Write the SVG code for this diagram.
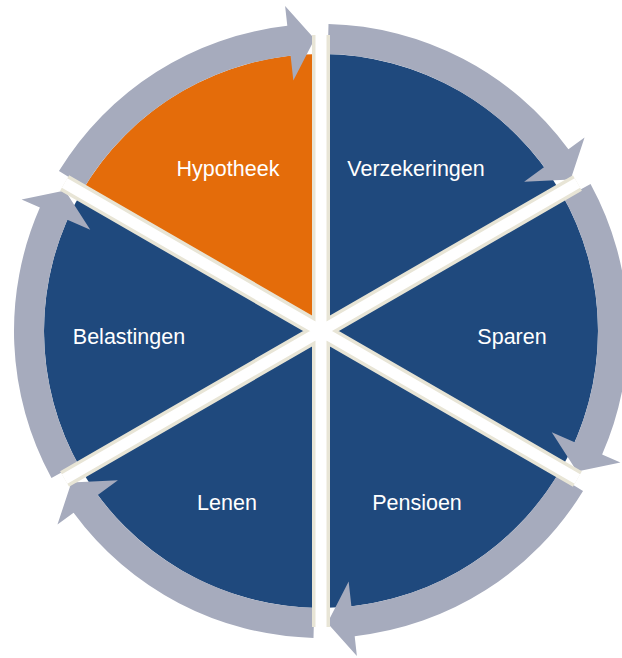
<svg xmlns="http://www.w3.org/2000/svg" xmlns:xlink="http://www.w3.org/1999/xlink" width="622" height="658" viewBox="0 0 622 658">
  <style>
    .blue { fill: #1F497D; }
    .orange { fill: #E46C0A; }
    .arrow { fill: #A6ABBD; }
    .cream { stroke: #E8E5D6; stroke-width: 18; fill: none; }
    .white { stroke: #FFFFFF; stroke-width: 11; fill: none; }
    .label { fill: #FFFFFF; font-family: "Liberation Sans", Arial, sans-serif; font-size: 21.5px; text-anchor: middle; }
  </style>
  <defs>
    <path id="wedge" d="M321,331 L321,54 A277,277 0 0 1 560.89,192.5 Z"/>
    <path id="arc-arrow" d="M328.50,24.09 A307,307 0 0 1 568.42,149.25 L584.54,137.41 L570.63,179.52 L524.09,181.81 L544.24,167.01 A277,277 0 0 0 327.77,54.08 Z"/>
    <path id="divider-lines" d="M321,331 L321,35 M321,331 L577.4,183 M321,331 L577.4,479 M321,331 L321,627 M321,331 L64.6,479 M321,331 L64.6,183"/>
  </defs>
  <rect width="622" height="658" fill="#FFFFFF"/>

  <g id="node-verzekeringen">
    <use xlink:href="#wedge" href="#wedge" class="blue"/>
  </g>
  <g id="node-sparen">
    <use xlink:href="#wedge" href="#wedge" class="blue" transform="rotate(60 321 331)"/>
  </g>
  <g id="node-pensioen">
    <use xlink:href="#wedge" href="#wedge" class="blue" transform="rotate(120 321 331)"/>
  </g>
  <g id="node-lenen">
    <use xlink:href="#wedge" href="#wedge" class="blue" transform="rotate(180 321 331)"/>
  </g>
  <g id="node-belastingen">
    <use xlink:href="#wedge" href="#wedge" class="blue" transform="rotate(240 321 331)"/>
  </g>
  <g id="node-hypotheek">
    <use xlink:href="#wedge" href="#wedge" class="orange" transform="rotate(300 321 331)"/>
  </g>

  <g id="connectors">
    <use xlink:href="#arc-arrow" href="#arc-arrow" class="arrow"/>
    <use xlink:href="#arc-arrow" href="#arc-arrow" class="arrow" transform="rotate(60 321 331)"/>
    <use xlink:href="#arc-arrow" href="#arc-arrow" class="arrow" transform="rotate(120 321 331)"/>
    <use xlink:href="#arc-arrow" href="#arc-arrow" class="arrow" transform="rotate(180 321 331)"/>
    <use xlink:href="#arc-arrow" href="#arc-arrow" class="arrow" transform="rotate(240 321 331)"/>
    <use xlink:href="#arc-arrow" href="#arc-arrow" class="arrow" transform="rotate(300 321 331)"/>
  </g>

  <g id="dividers">
    <use xlink:href="#divider-lines" href="#divider-lines" class="cream"/>
    <use xlink:href="#divider-lines" href="#divider-lines" class="white"/>
  </g>

  <g id="labels">
    <text class="label" x="228" y="176">Hypotheek</text>
    <text class="label" x="416" y="176">Verzekeringen</text>
    <text class="label" x="129" y="344">Belastingen</text>
    <text class="label" x="512" y="344">Sparen</text>
    <text class="label" x="227" y="510">Lenen</text>
    <text class="label" x="417" y="510">Pensioen</text>
  </g>
</svg>
